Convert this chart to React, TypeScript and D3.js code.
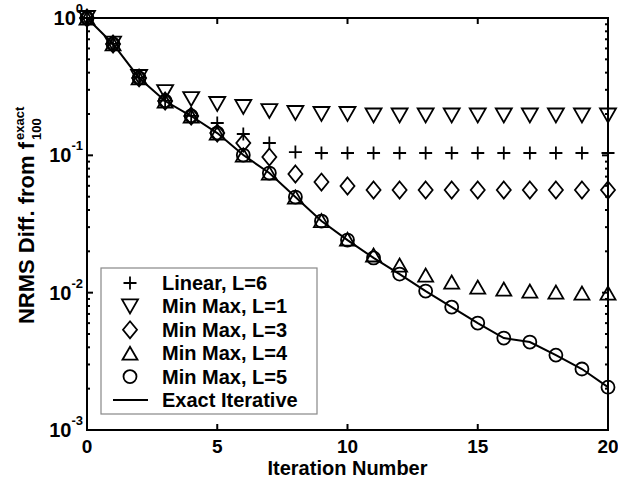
import React from "react";
import * as d3 from "d3";

const iterations = d3.range(0, 21);
const linearL6 = [1.0, 0.647, 0.368, 0.25, 0.194, 0.172, 0.143, 0.123, 0.1057, 0.104, 0.104, 0.104, 0.104, 0.104, 0.104, 0.104, 0.104, 0.104, 0.104, 0.104, 0.104];
const minMaxL1 = [1.0, 0.65, 0.372, 0.289, 0.257, 0.2364, 0.2248, 0.2102, 0.2033, 0.2, 0.2, 0.195, 0.195, 0.195, 0.195, 0.195, 0.195, 0.195, 0.195, 0.195, 0.195];
const minMaxL3 = [1.0, 0.647, 0.366, 0.2486, 0.1933, 0.1453, 0.1229, 0.0972, 0.0731, 0.0639, 0.0598, 0.0559, 0.0559, 0.0559, 0.0559, 0.0559, 0.0559, 0.0559, 0.0559, 0.0559, 0.0559];
const minMaxL4 = [1.0, 0.647, 0.366, 0.2486, 0.1933, 0.1453, 0.1005, 0.0743, 0.0497, 0.0335, 0.0245, 0.0188, 0.01589, 0.01343, 0.01195, 0.01098, 0.01062, 0.01027, 0.0101, 0.00993, 0.00993];
const minMaxL5 = [1.0, 0.647, 0.366, 0.2486, 0.1933, 0.1453, 0.1005, 0.0743, 0.0497, 0.0332, 0.02415, 0.0179, 0.01366, 0.01027, 0.00785, 0.00601, 0.00467, 0.00437, 0.00351, 0.00278, 0.00205];
const exactIterative = [1.0, 0.647, 0.366, 0.2486, 0.1933, 0.1453, 0.1005, 0.0743, 0.0497, 0.0332, 0.02415, 0.0179, 0.01366, 0.01027, 0.00785, 0.00601, 0.00467, 0.00437, 0.00351, 0.00278, 0.00205];

const xTicks = [0, 5, 10, 15, 20];
const yDecades = [0, -1, -2, -3];
const legendLabels = ["Linear, L=6", "Min Max, L=1", "Min Max, L=3", "Min Max, L=4", "Min Max, L=5", "Exact Iterative"];

const W = 618, H = 479;
const L = 87, R = 608, T = 18, B = 430;
const FONT = "'Liberation Sans', Arial, Helvetica, sans-serif";

type Shape = "plus" | "tdown" | "diamond" | "tup" | "circle";

function markerPath(s: Shape): string {
  switch (s) {
    case "plus": return "M-6.5,0H6.5M0,-6.5V6.5";
    case "tdown": return "M-8,-7L8,-7L0,7Z";
    case "tup": return "M-7.5,6.5L7.5,6.5L0,-6.5Z";
    case "diamond": return "M0,-8.5L7,0L0,8.5L-7,0Z";
    case "circle": return "M6.5,0A6.5,6.5 0 1,1 -6.5,0A6.5,6.5 0 1,1 6.5,0Z";
  }
}

export default function App() {
  const x = d3.scaleLinear().domain([0, 20]).range([L, R]);
  const y = d3.scaleLog().domain([1e-3, 1]).range([B, T]);

  const series: { data: number[]; shape: Shape }[] = [
    { data: linearL6, shape: "plus" },
    { data: minMaxL1, shape: "tdown" },
    { data: minMaxL3, shape: "diamond" },
    { data: minMaxL4, shape: "tup" },
    { data: minMaxL5, shape: "circle" },
  ];

  const line = d3.line<number>().x((_, i) => x(iterations[i])).y((d) => y(d));

  const minorTicks: number[] = [];
  for (let e = -3; e < 0; e++) for (let m = 2; m <= 9; m++) minorTicks.push(m * Math.pow(10, e));

  const legX = 101, legY = 268, legW = 216, legH = 146;
  const rowY0 = 283, rowDy = 23.4;

  return (
    <div style={{ position: "absolute", left: 0, top: 0 }}>
      <svg width={W} height={H} style={{ display: "block", background: "#fff" }} fontFamily={FONT}>
        <rect x={0} y={0} width={W} height={H} fill="#fff" />
        <rect x={L} y={T} width={R - L} height={B - T} fill="none" stroke="#000" strokeWidth={2} />
        {xTicks.map((t) => (
          <g key={"xt" + t}>
            <line x1={x(t)} x2={x(t)} y1={B} y2={B - 6} stroke="#000" strokeWidth={2} />
            <line x1={x(t)} x2={x(t)} y1={T} y2={T + 6} stroke="#000" strokeWidth={2} />
            <text x={x(t)} y={453} textAnchor="middle" fontSize={19} fontWeight="bold">{t}</text>
          </g>
        ))}
        {yDecades.map((e) => (
          <g key={"yt" + e}>
            <line x1={L} x2={L + 6} y1={y(Math.pow(10, e))} y2={y(Math.pow(10, e))} stroke="#000" strokeWidth={2} />
            <line x1={R} x2={R - 6} y1={y(Math.pow(10, e))} y2={y(Math.pow(10, e))} stroke="#000" strokeWidth={2} />
            <text x={83} y={y(Math.pow(10, e)) + 7} textAnchor="end" fontWeight="bold" fontSize={20}>
              10<tspan fontSize={13} dy={-12}>{e}</tspan>
            </text>
          </g>
        ))}
        {minorTicks.map((v, i) => (
          <g key={"mt" + i}>
            <line x1={L} x2={L + 3} y1={y(v)} y2={y(v)} stroke="#000" strokeWidth={2} />
            <line x1={R} x2={R - 3} y1={y(v)} y2={y(v)} stroke="#000" strokeWidth={2} />
          </g>
        ))}
        <text x={(L + R) / 2} y={475} textAnchor="middle" fontSize={20} fontWeight="bold">Iteration Number</text>
        <g transform="translate(34,142) rotate(-90)">
          <text x={0} y={0} textAnchor="end" fontSize={22} fontWeight="bold">NRMS Diff. from f</text>
          <text x={2} y={7} fontSize={13} fontWeight="bold">100</text>
          <text x={2} y={-10} fontSize={13} fontWeight="bold">exact</text>
        </g>
        {series.map((s, si) => (
          <g key={"s" + si} fill="none" stroke="#000" strokeWidth={1.8}>
            {s.data.map((v, i) => (
              <path key={i} d={markerPath(s.shape)} transform={`translate(${x(iterations[i])},${y(v)})`} />
            ))}
          </g>
        ))}
        <path d={line(exactIterative) || ""} fill="none" stroke="#000" strokeWidth={2} />
        <rect x={legX} y={legY} width={legW} height={legH} fill="#fff" stroke="#888" strokeWidth={1.2} />
        {legendLabels.map((lab, i) => {
          const cy = rowY0 + i * rowDy;
          return (
            <g key={"lg" + i}>
              {i < 5 ? (
                <path d={markerPath(series[i].shape)} transform={`translate(130,${cy})`} fill="none" stroke="#000" strokeWidth={1.8} />
              ) : (
                <line x1={113} x2={148} y1={cy} y2={cy} stroke="#000" strokeWidth={2} />
              )}
              <text x={162} y={cy + 7} fontSize={20} fontWeight="bold">{lab}</text>
            </g>
          );
        })}
      </svg>
    </div>
  );
}
